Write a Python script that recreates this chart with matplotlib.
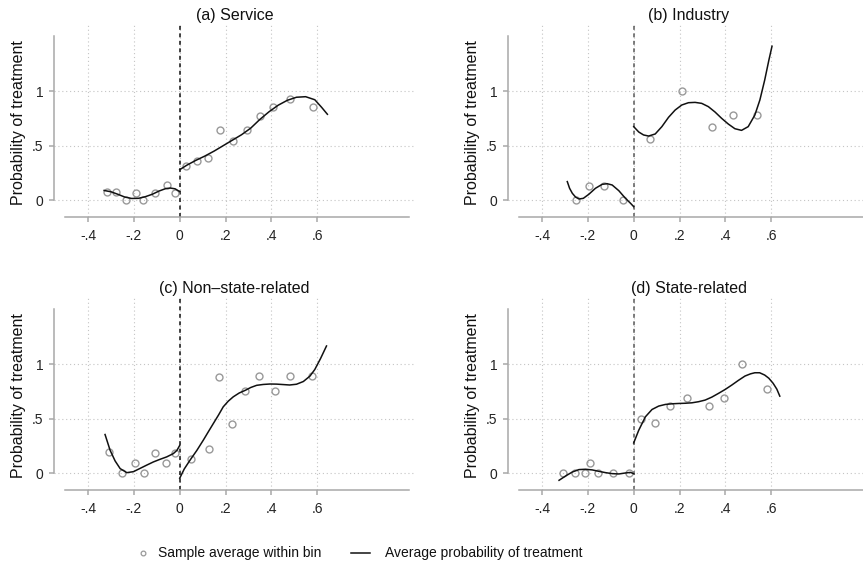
import matplotlib
matplotlib.use("Agg")
import matplotlib.pyplot as plt
from matplotlib.lines import Line2D

plt.rcParams["font.family"] = ["Liberation Sans", "DejaVu Sans"]

TITLES = ["(a) Service", "(b) Industry", "(c) Non\u2013state-related", "(d) State-related"]

X_TICKS = [-0.4, -0.2, 0, 0.2, 0.4, 0.6]
X_TICK_LABELS = ["-.4", "-.2", "0", ".2", ".4", ".6"]
Y_TICKS = [0, 0.5, 1]
Y_TICK_LABELS = ["0", ".5", "1"]

# bin averages
service_bin_x = [-0.316, -0.278, -0.234, -0.193, -0.159, -0.106, -0.057, -0.019,
                 0.026, 0.076, 0.125, 0.177, 0.234, 0.294, 0.352, 0.407, 0.481, 0.583]
service_bin_y = [0.073, 0.073, 0.0, 0.07, 0.0, 0.07, 0.137, 0.07,
                 0.311, 0.357, 0.387, 0.643, 0.54, 0.643, 0.771, 0.857, 0.924, 0.857]
industry_bin_x = [-0.254, -0.196, -0.130, -0.048, 0.072, 0.210, 0.341, 0.435, 0.538]
industry_bin_y = [0.0, 0.128, 0.128, 0.0, 0.558, 1.0, 0.668, 0.777, 0.777]
nonstate_bin_x = [-0.307, -0.252, -0.195, -0.156, -0.109, -0.061, -0.020,
                  0.051, 0.128, 0.173, 0.230, 0.287, 0.346, 0.416, 0.481, 0.576]
nonstate_bin_y = [0.199, 0.0, 0.092, 0.0, 0.183, 0.092, 0.183,
                  0.128, 0.223, 0.878, 0.447, 0.75, 0.887, 0.75, 0.887, 0.887]
state_bin_x = [-0.307, -0.257, -0.214, -0.190, -0.157, -0.090, -0.020,
               0.030, 0.094, 0.157, 0.233, 0.328, 0.394, 0.471, 0.583]
state_bin_y = [0.0, 0.0, 0.0, 0.092, 0.0, 0.0, 0.0,
               0.498, 0.462, 0.615, 0.691, 0.615, 0.691, 1.0, 0.771]

# fitted probability, left and right of the cutoff
service_left_x = [-0.33, -0.30, -0.27, -0.24, -0.21, -0.18, -0.15, -0.12, -0.09, -0.06, -0.04, -0.02, 0]
service_left_y = [0.09, 0.078, 0.055, 0.03, 0.017, 0.018, 0.033, 0.055, 0.085, 0.108, 0.112, 0.105, 0.08]
service_right_x = [0, 0.03, 0.07, 0.11, 0.15, 0.19, 0.23, 0.27, 0.31, 0.35, 0.39, 0.43,
                   0.47, 0.51, 0.55, 0.59, 0.62, 0.645]
service_right_y = [0.28, 0.32, 0.365, 0.405, 0.45, 0.50, 0.55, 0.60, 0.66, 0.74, 0.81, 0.87,
                   0.915, 0.943, 0.948, 0.92, 0.85, 0.787]

industry_left_x = [-0.29, -0.28, -0.268, -0.254, -0.239, -0.22, -0.196, -0.167, -0.138, -0.116,
                   -0.094, -0.065, -0.036, -0.014, 0]
industry_left_y = [0.171, 0.11, 0.064, 0.03, 0.012, 0.018, 0.055, 0.11, 0.146, 0.152,
                   0.14, 0.088, 0.018, -0.027, -0.058]
industry_right_x = [0, 0.022, 0.043, 0.065, 0.094, 0.123, 0.152, 0.181, 0.21, 0.239, 0.268,
                    0.297, 0.326, 0.355, 0.384, 0.413, 0.442, 0.471, 0.5, 0.529, 0.551,
                    0.572, 0.59, 0.604]
industry_right_y = [0.674, 0.625, 0.598, 0.588, 0.607, 0.674, 0.759, 0.826, 0.872, 0.893, 0.896,
                    0.887, 0.857, 0.808, 0.75, 0.698, 0.655, 0.64, 0.674, 0.78, 0.918,
                    1.10, 1.28, 1.41]

nonstate_left_x = [-0.326, -0.304, -0.282, -0.26, -0.231, -0.202, -0.173, -0.144, -0.115,
                   -0.086, -0.057, -0.028, -0.012, 0]
nonstate_left_y = [0.355, 0.211, 0.113, 0.043, 0.006, 0.015, 0.045, 0.075, 0.104,
                   0.128, 0.15, 0.18, 0.21, 0.255]
nonstate_right_x = [0, 0.02, 0.045, 0.075, 0.103, 0.125, 0.147, 0.17, 0.19, 0.212, 0.234,
                    0.26, 0.287, 0.31, 0.336, 0.365, 0.394, 0.423, 0.452, 0.48, 0.51,
                    0.54, 0.569, 0.59, 0.615, 0.641]
nonstate_right_y = [-0.045, 0.04, 0.12, 0.21, 0.303, 0.38, 0.456, 0.535, 0.608, 0.66, 0.70,
                    0.735, 0.76, 0.785, 0.805, 0.813, 0.817, 0.816, 0.812, 0.808, 0.815,
                    0.84, 0.89, 0.95, 1.05, 1.165]

state_left_x = [-0.326, -0.297, -0.268, -0.239, -0.21, -0.181, -0.152, -0.123, -0.094,
                -0.065, -0.036, -0.014, 0]
state_left_y = [-0.064, -0.024, 0.012, 0.034, 0.037, 0.031, 0.018, 0.006, -0.003,
                -0.006, 0.003, 0.008, -0.003]
state_right_x = [0, 0.022, 0.051, 0.08, 0.109, 0.138, 0.167, 0.196, 0.225, 0.254, 0.283,
                 0.312, 0.341, 0.37, 0.4, 0.428, 0.457, 0.486, 0.51, 0.529, 0.55, 0.572,
                 0.59, 0.609, 0.625, 0.638]
state_right_y = [0.278, 0.394, 0.517, 0.584, 0.615, 0.63, 0.636, 0.639, 0.641, 0.645, 0.655,
                 0.67, 0.697, 0.731, 0.768, 0.807, 0.85, 0.89, 0.91, 0.92, 0.92, 0.899,
                 0.87, 0.823, 0.77, 0.706]

panels = [
    (service_bin_x, service_bin_y, service_left_x, service_left_y, service_right_x, service_right_y),
    (industry_bin_x, industry_bin_y, industry_left_x, industry_left_y, industry_right_x, industry_right_y),
    (nonstate_bin_x, nonstate_bin_y, nonstate_left_x, nonstate_left_y, nonstate_right_x, nonstate_right_y),
    (state_bin_x, state_bin_y, state_left_x, state_left_y, state_right_x, state_right_y),
]

W, H = 863, 571
AXIS_GRAY = "#a8a8a8"
GRID_GRAY = "#c4c4c4"
DOT_GRAY = "#999999"

fig = plt.figure(figsize=(W / 100, H / 100), dpi=100)

# axes boxes in pixels: left, top
boxes = [(54.3, 25), (508.3, 25), (54.3, 298), (508.3, 298)]
ax_w, ax_h = 360.7, 191.7
cut_colors = ["#111111", "#5a5a5a", "#111111", "#5a5a5a"]

for i, (left, top) in enumerate(boxes):
    ax = fig.add_axes([left / W, 1 - (top + ax_h) / H, ax_w / W, ax_h / H])
    bx, by, lx, ly, rx, ry = panels[i]

    ax.set_xlim(-0.5476, 1.0275)
    ax.set_ylim(-0.15, 1.604)

    ax.set_xticks(X_TICKS)
    ax.set_xticklabels(X_TICK_LABELS)
    ax.set_yticks(Y_TICKS)
    ax.set_yticklabels(Y_TICK_LABELS)
    ax.tick_params(axis="both", colors=AXIS_GRAY, labelcolor="#222222", length=3.6,
                   width=1.1, labelsize=10)
    ax.tick_params(axis="x", pad=5)
    ax.tick_params(axis="y", pad=4)

    ax.grid(True, color=GRID_GRAY, linestyle=(0, (1, 2.5)), linewidth=0.8)
    ax.set_axisbelow(True)

    for side in ["top", "right"]:
        ax.spines[side].set_visible(False)
    ax.spines["left"].set_bounds(0, 1.5)
    ax.spines["bottom"].set_bounds(-0.5, 1.0)
    for side in ["left", "bottom"]:
        ax.spines[side].set_color(AXIS_GRAY)
        ax.spines[side].set_linewidth(1.1)

    ax.axvline(0, color=cut_colors[i], linestyle=(0, (2.6, 2.3)), linewidth=1.1, zorder=2)

    ax.plot(bx, by, linestyle="none", marker="o", markersize=5, markerfacecolor="none",
            markeredgecolor=DOT_GRAY, markeredgewidth=1.0, zorder=3)
    ax.plot(lx, ly, color="#111111", linewidth=1.1, zorder=4)
    ax.plot(rx, ry, color="#111111", linewidth=1.1, zorder=4)

    ax.set_title(TITLES[i], fontsize=11.5, pad=3.5, color="#111111")
    ax.set_ylabel("Probability of treatment", fontsize=11.5, color="#111111")
    ax.yaxis.set_label_coords(-0.078, 0.49)

# legend below the panels
ly = 1 - 553.3 / H
fig.add_artist(Line2D([143.3 / W], [ly], marker="o", markersize=3.4, markerfacecolor="none",
                      markeredgecolor=DOT_GRAY, markeredgewidth=0.9, linestyle="none",
                      transform=fig.transFigure))
fig.text(158.3 / W, ly, "Sample average within bin", fontsize=10, va="center", color="#111111")
fig.add_artist(Line2D([350.7 / W, 370 / W], [ly, ly], color="#111111", linewidth=1.1,
                      transform=fig.transFigure))
fig.text(385 / W, ly, "Average probability of treatment", fontsize=10, va="center",
         color="#111111")

fig.savefig("out.png", dpi=100)
